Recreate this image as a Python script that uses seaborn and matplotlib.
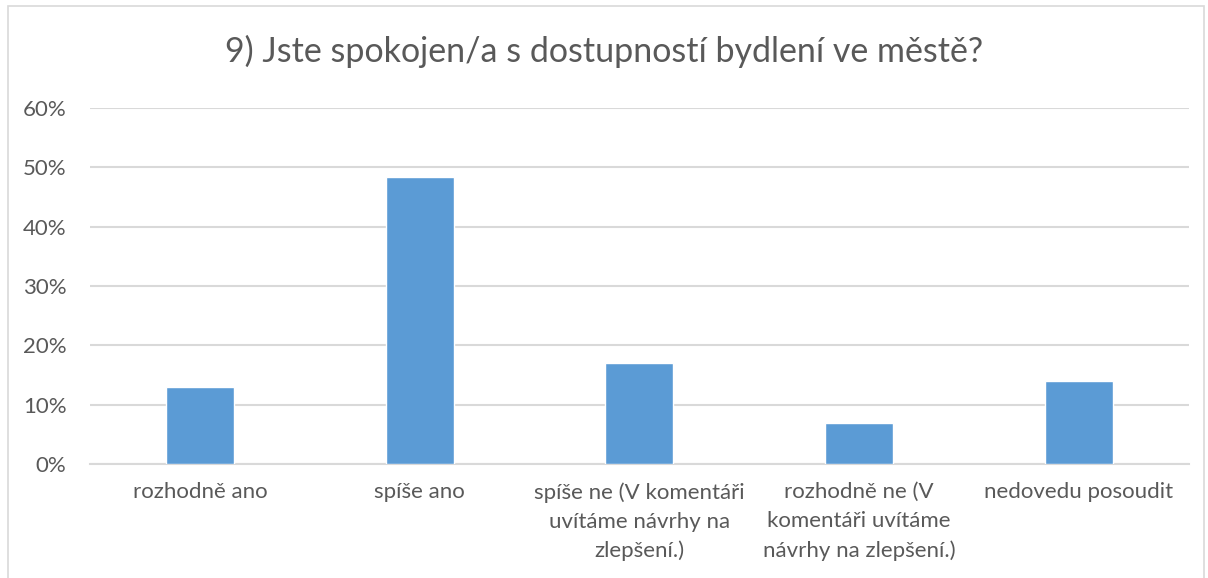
import matplotlib
matplotlib.use("Agg")
import matplotlib.pyplot as plt
import seaborn as sns
import pandas as pd
from matplotlib.patches import Rectangle
from matplotlib.ticker import PercentFormatter

# values
categories = [
    "rozhodně ano",
    "spíše ano",
    "spíše ne (V komentáři\nuvítáme návrhy na\nzlepšení.)",
    "rozhodně ne (V\nkomentáři uvítáme\nnávrhy na zlepšení.)",
    "nedovedu posoudit",
]
shares = [0.130, 0.484, 0.171, 0.070, 0.140]
y_ticks = [0, 0.1, 0.2, 0.3, 0.4, 0.5, 0.6]

df = pd.DataFrame({"odpoved": categories, "podil": shares})

sns.set_style("white")
plt.rcParams["font.family"] = ["Lato", "DejaVu Sans"]
text_col = "#595959"

fig = plt.figure(figsize=(12.08, 5.78), dpi=100)
ax = fig.add_axes([0.0745, 0.197, 0.9095, 0.616])

sns.barplot(data=df, x="odpoved", y="podil", color="#5b9bd5", width=0.31,
            saturation=1, ax=ax, zorder=3)

ax.set_ylim(0, 0.6)
ax.set_yticks(y_ticks)
ax.yaxis.set_major_formatter(PercentFormatter(1.0, decimals=0))
ax.grid(axis="y", color="#d9d9d9", linewidth=1.5, zorder=0)
ax.set_axisbelow(True)
for s in ["top", "right", "left"]:
    ax.spines[s].set_visible(False)
ax.spines["bottom"].set_color("#d9d9d9")
ax.spines["bottom"].set_linewidth(1.5)
ax.tick_params(axis="both", length=0, colors=text_col, labelsize=16)
ax.tick_params(axis="x", pad=13)
ax.tick_params(axis="y", pad=17)
for lbl in ax.get_xticklabels():
    lbl.set_linespacing(1.55)
ax.set_xlabel("")
ax.set_ylabel("")

fig.suptitle("9) Jste spokojen/a s dostupností bydlení ve městě?",
             y=0.94, fontsize=24.5, color=text_col)

fig.patches.append(Rectangle((0.007, -0.02), 0.99, 1.01, transform=fig.transFigure,
                             fill=False, edgecolor="#d9d9d9", linewidth=1.2))

fig.savefig("out.png", dpi=100)
